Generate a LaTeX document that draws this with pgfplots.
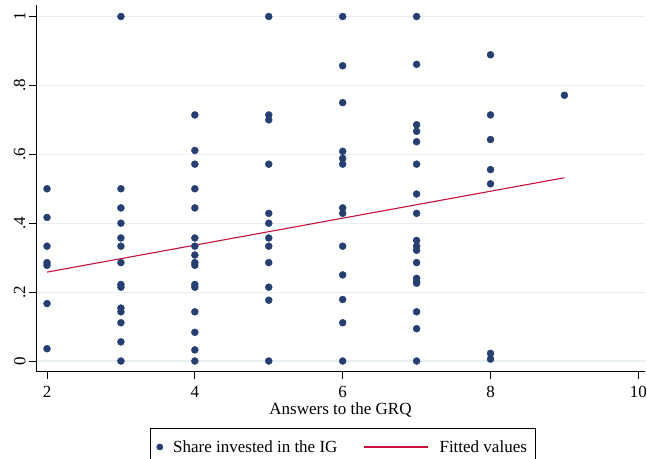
\documentclass[border=0pt]{standalone}
\usepackage{fontspec}
\setmainfont{Liberation Serif}
\usepackage{pgfplots}
\pgfplotsset{compat=1.18}
\definecolor{dotcol}{RGB}{38,62,112}
\definecolor{linecol}{RGB}{200,16,60}
\definecolor{gridcol}{RGB}{232,239,242}
\begin{document}
\begin{tikzpicture}[x=1pt,y=1pt]
\begin{axis}[
  at={(36pt,86.3pt)}, anchor=south west,
  scale only axis, width=609pt, height=366.7pt,
  xmin=1.851, xmax=10.09, ymin=-0.031, ymax=1.0334,
  axis lines*=left,
  xtick={2,4,6,8,10},
  ytick={0,0.2,0.4,0.6,0.8,1},
  yticklabels={0,.2,.4,.6,.8,1},
  /pgf/number format/assume math mode=true,
  tick align=outside, major tick length=7pt,
  ymajorgrids, grid style={gridcol, line width=1.2pt},
  axis line style={line width=0.9pt},
  tick style={line width=0.9pt, black},
  ticklabel style={font=\fontsize{17}{20}\selectfont},
  xticklabel style={yshift=-4pt},
  yticklabel style={rotate=90, anchor=south},
  label style={font=\fontsize{17}{20}\selectfont},
  xlabel style={yshift=2pt},
  xlabel={Answers to the GRQ},
  legend columns=2,
  legend style={at={(0.5036,-0.1535)}, anchor=north, draw=black, line width=0.7pt,
    inner xsep=6pt, inner ysep=10pt,
    font=\fontsize{17}{20}\selectfont,
    /tikz/column 1/.style={column sep=8pt},
    /tikz/column 2/.style={column sep=24pt},
    /tikz/column 3/.style={column sep=9pt}},
]
\addplot[only marks, mark=*, mark size=3.5pt, mark options={draw=dotcol, fill=dotcol},
  legend image code/.code={\fill[dotcol] (3pt,0pt) circle (3pt);}]
  coordinates {
  (2,0.5) (2,0.4167) (2,0.3333) (2,0.2857) (2,0.2778) (2,0.1667) (2,0.0357)
  (3,1) (3,0.5) (3,0.4444) (3,0.4) (3,0.3571) (3,0.3333) (3,0.2857) (3,0.2222) (3,0.2143)
  (3,0.1538) (3,0.1429) (3,0.1111) (3,0.0556) (3,0)
  (4,0.7143) (4,0.6111) (4,0.5714) (4,0.5) (4,0.4444) (4,0.3571) (4,0.3333) (4,0.3077)
  (4,0.2857) (4,0.2778) (4,0.2222) (4,0.2143) (4,0.1429) (4,0.0833) (4,0.0323) (4,0)
  (5,1) (5,0.7143) (5,0.7) (5,0.5714) (5,0.4286) (5,0.4) (5,0.3571) (5,0.3333) (5,0.2857)
  (5,0.2143) (5,0.1765) (5,0)
  (6,1) (6,0.8571) (6,0.75) (6,0.6087) (6,0.5882) (6,0.5714) (6,0.4444) (6,0.4286)
  (6,0.3333) (6,0.25) (6,0.1786) (6,0.1111) (6,0)
  (7,1) (7,0.8611) (7,0.6857) (7,0.6667) (7,0.6364) (7,0.5714) (7,0.4848) (7,0.4286)
  (7,0.35) (7,0.3333) (7,0.3214) (7,0.2857) (7,0.24) (7,0.2308) (7,0.2258) (7,0.1429)
  (7,0.0938) (7,0)
  (8,0.8889) (8,0.7143) (8,0.6429) (8,0.5556) (8,0.5143) (8,0.0222) (8,0.0056)
  (9,0.7714)
  };
\addlegendentry{Share invested in the IG}
\addplot[linecol, line width=1.1pt, no marks,
  legend image code/.code={\draw[linecol, line width=1.1pt] (0pt,0pt) -- (64pt,0pt);}]
  coordinates {(2,0.258) (9,0.532)};
\addlegendentry{Fitted values}
\end{axis}
\pgfresetboundingbox
\useasboundingbox (0,0) rectangle (647,458);
\end{tikzpicture}
\end{document}
